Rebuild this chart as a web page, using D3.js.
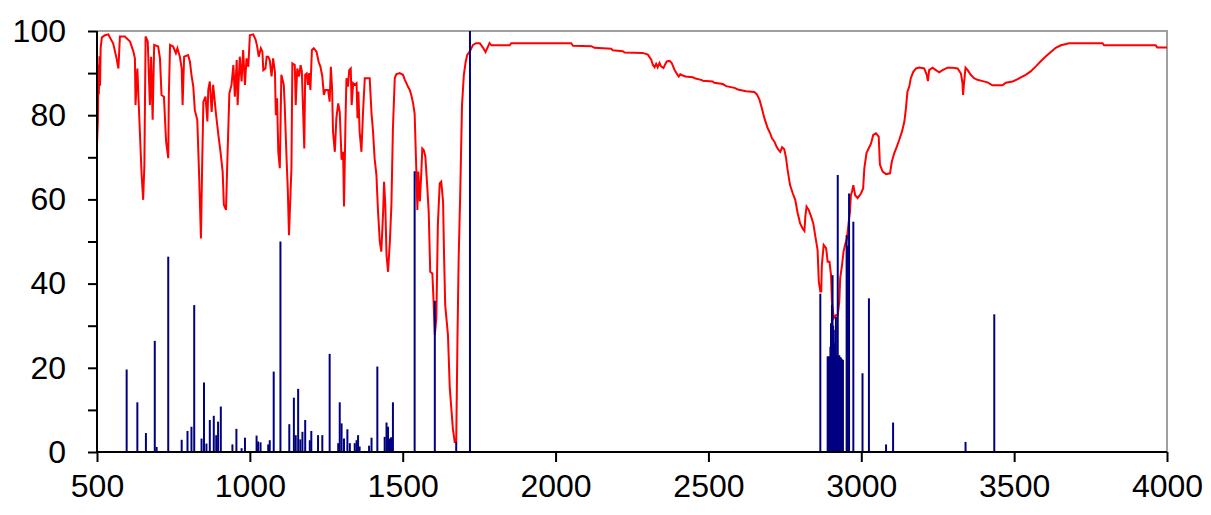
<!DOCTYPE html>
<html>
<head>
<meta charset="utf-8">
<script src="https://cdn.jsdelivr.net/npm/d3@7"></script>
<style>
html,body{margin:0;padding:0;background:#fff;}
svg text{font-family:"Liberation Sans",Arial,sans-serif;}
</style>
</head>
<body>
<svg id="chart" width="1211" height="515"></svg>
<script>
// ---- data ----
const xTicks = [500, 1000, 1500, 2000, 2500, 3000, 3500, 4000];
const yTicks = [0, 10, 20, 30, 40, 50, 60, 70, 80, 90, 100];
const yLabels = [0, 20, 40, 60, 80, 100];

// measured spectrum (wavenumber, transmittance %)
const spectrumPoints = [
[500,73],[503,79],[505,92],[506,85],[508,94],[510,87],[512,96],[516,98.5],[526,99],[537,99.2],[553,97],[564,93.5],[570,91.1],[575,98.7],[591,98.7],[608,97.5],[619,95.1],[624,93.5],[626,82.4],[632,91.1],[638,80],[646,65.8],[651,59.9],[655,68.2],[659,98.7],[666,97.5],[673,82.4],[677,93.9],[682,78.9],[687,96.7],[700,96.3],[706,93.5],[711,84.8],[719,84.4],[726,73.7],[733,69.8],[735,84.8],[739,96.7],[749,96.3],[758,94.7],[763,95.9],[771,93.9],[777,91.1],[780,82.4],[785,93.9],[798,94.3],[804,92.7],[809,89.6],[815,86.8],[820,81.2],[828,78.9],[834,65.8],[840,50.7],[844,68.2],[848,83.2],[855,84.4],[861,78.5],[864,86],[869,88],[875,80.8],[880,87.2],[889,80.4],[897,75.3],[904,71.3],[911,66.6],[915,58.7],[922,57.5],[926,68.2],[933,85.2],[940,87.2],[946,91.9],[951,84.4],[957,93.1],[960,82.4],[967,93.9],[973,88],[978,95.5],[984,87.2],[989,93.5],[995,91.5],[1000,99],[1011,99.2],[1019,97.9],[1024,96.3],[1029,93.9],[1036,95.9],[1041,95.1],[1044,90.7],[1051,91.1],[1055,93.9],[1060,93.9],[1065,93.1],[1071,89.2],[1076,93.5],[1082,90.3],[1085,80],[1089,84],[1093,71.3],[1098,67.4],[1103,89.6],[1111,87.2],[1114,82.4],[1120,69.8],[1124,62.6],[1128,51.5],[1136,67.4],[1139,92.3],[1147,91.9],[1150,82.4],[1155,91.1],[1161,89.2],[1166,91.9],[1170,90.5],[1174,81.6],[1178,72.1],[1181,89.6],[1186,89.9],[1190,87.2],[1194,90],[1198,86],[1203,95.5],[1209,95.9],[1218,95.1],[1225,92.7],[1231,91.5],[1237,89.2],[1242,84.8],[1247,86],[1256,86],[1261,83.2],[1265,91.5],[1269,86.4],[1272,76.1],[1278,71.3],[1283,79.3],[1289,82.8],[1294,80.8],[1300,69.4],[1305,71.3],[1308,58.3],[1313,79.3],[1316,88.8],[1321,86.8],[1325,90.7],[1330,91.1],[1333,82.4],[1338,87.6],[1343,87.2],[1349,87.6],[1352,79.3],[1355,85.6],[1359,76.1],[1365,71.3],[1370,80.4],[1376,88.8],[1392,88.8],[1398,80.4],[1403,76.1],[1408,69.8],[1414,65.8],[1419,57.5],[1425,50],[1430,47.6],[1436,57.1],[1439,64.2],[1443,58.7],[1447,46.8],[1452,42.8],[1458,50],[1463,58.7],[1468,76.9],[1474,88.8],[1479,89.7],[1490,90],[1501,89.6],[1507,88.4],[1512,87.6],[1517,86.8],[1523,86],[1528,84.8],[1534,82.8],[1539,80.4],[1545,65.8],[1548,57.5],[1551,66.6],[1556,59.5],[1561,66.6],[1564,72.1],[1569,71.7],[1574,70.2],[1580,63.4],[1585,57.1],[1590,42.8],[1597,42.4],[1601,35.7],[1605,27.8],[1610,31.8],[1615,53.9],[1621,63.8],[1626,64.2],[1632,59.5],[1635,47.6],[1639,34.9],[1648,27.8],[1654,15.1],[1659,10.4],[1664,5.6],[1670,2.4],[1675,2.4],[1679,26.2],[1683,46],[1688,61],[1694,82.4],[1700,89.6],[1706,92.7],[1711,94.3],[1719,95.1],[1730,96.7],[1740,97.1],[1752,97.1],[1763,96],[1771,95],[1784,97.1],[1790,96.6],[1850,96.6],[1855,97.1],[2051,97.1],[2057,96.5],[2117,96.4],[2127,96],[2182,95.8],[2187,95.4],[2220,95.2],[2226,94.9],[2285,94.8],[2302,94.4],[2313,93.2],[2318,92],[2324,91.4],[2329,92.2],[2334,91.4],[2340,92.4],[2345,91.6],[2353,91.2],[2358,92],[2364,92.8],[2373,92.9],[2380,92.4],[2389,90.8],[2397,89.8],[2403,89.2],[2408,89.7],[2414,89.5],[2425,89.2],[2449,89],[2458,88.7],[2476,88.4],[2482,88.2],[2514,88],[2519,87.7],[2547,87.4],[2558,86.9],[2585,86.5],[2596,86.1],[2623,85.7],[2650,85.5],[2658,85],[2667,83.7],[2675,81.6],[2683,79.3],[2694,76.9],[2702,75.7],[2708,74.5],[2716,73.7],[2723,72.5],[2730,71.7],[2735,71.3],[2741,72.4],[2748,71.9],[2754,69.8],[2759,67],[2767,63.4],[2776,61.4],[2784,59.9],[2792,56.7],[2800,54.3],[2808,53.1],[2814,52.5],[2817,55.9],[2821,58.3],[2828,57.5],[2836,55.9],[2843,54.3],[2850,51.1],[2857,48],[2861,40.5],[2866,38.1],[2869,38.1],[2871,44.4],[2877,49.2],[2885,48.4],[2890,45.2],[2896,45.2],[2901,42],[2904,35.7],[2910,31.8],[2917,32.5],[2923,32.5],[2928,35.7],[2931,41.3],[2937,44.4],[2942,47.6],[2947,49.2],[2953,50.7],[2959,54.7],[2963,57.1],[2966,61],[2970,62],[2974,63.4],[2980,61],[2988,60.3],[2999,61.4],[3006,62.6],[3010,67.4],[3017,71],[3024,72.1],[3032,73.3],[3039,75.3],[3048,75.7],[3057,74.9],[3061,68.2],[3070,66.6],[3081,66],[3094,66.2],[3100,69],[3108,71],[3116,72.5],[3124,74.1],[3133,76.1],[3141,78.5],[3146,81.6],[3151,85.6],[3157,86.8],[3162,88.8],[3170,90.3],[3179,91.1],[3190,91.3],[3206,91.1],[3214,89.6],[3218,88.1],[3222,90.7],[3233,91.3],[3244,90.7],[3255,90.2],[3266,90.7],[3282,91.3],[3298,91.3],[3315,91.1],[3326,89.9],[3331,87.6],[3333,84.8],[3336,87.6],[3341,91.3],[3348,90.7],[3358,89.6],[3369,88.8],[3380,88.4],[3397,88.1],[3413,87.8],[3429,87.1],[3462,87.1],[3473,87.7],[3495,88],[3510,88.5],[3522,89],[3538,89.6],[3554,90.4],[3571,91.6],[3587,92.8],[3604,94],[3620,95],[3636,96],[3653,96.6],[3680,97.1],[3789,97.1],[3794,96.6],[3963,96.6],[3968,96.1],[4000,96.1]
];

// calculated line positions (wavenumber) and intensities
const stickPositions = [597,632,660,689,695,733,777,796,809,818,842,850,858,869,882,890,896,905,943,956,973,984,1022,1027,1035,1060,1065,1078,1100,1129,1144,1150,1158,1165,1172,1181,1196,1201,1223,1237,1261,1289,1294,1300,1308,1319,1327,1343,1349,1354,1359,1390,1398,1417,1441,1447,1452,1458,1462,1468,1539,1605,1675,1720,
2866,2890,2893,2896,2899,2901,2904,2906,2908,2910,2912,2914,2917,2920,2923,2926,2928,2930,2932,2934,2937,2940,2952,2956,2960,2974,3004,3025,3081,3104,3341,3435];
const stickIntensities = [19.6,11.8,4.5,26.4,1.2,46.4,2.9,5,6,34.9,3.2,16.5,2,7.6,8.6,4,7.2,10.8,1.8,5.5,0.9,3.4,3.9,2.5,2.3,1.8,2.8,19.1,50,6.6,12.9,4,15,3,4.8,7.6,2.8,5,4,4,23.3,2.1,11.8,6.8,3.2,5.4,2.1,2.1,2.8,4,1.3,1.5,3.4,20.3,3.6,7,6,3.2,3.5,11.8,66.7,35.9,2.4,100,
37.6,22.7,22.7,22.7,25,30.6,35,42,30,29,26,25.8,32.1,23,65.8,22.7,23,22.5,22.5,22.3,22,21.9,51.5,49,61.4,54.7,18.7,36.5,1.8,7,2.4,32.7];

// ---- drawing ----
const svg = d3.select("#chart");
const plotL = 97, plotR = 1167, plotT = 31, plotB = 452;
const x = d3.scaleLinear().domain([500, 4000]).range([plotL, plotR]);
const y = d3.scaleLinear().domain([0, 100]).range([plotB, plotT]);

// frame (top and right grey)
svg.append("path")
  .attr("d", `M${plotL},${plotT}H${plotR}V${plotB}`)
  .attr("fill", "none").attr("stroke", "#a0a0a0").attr("stroke-width", 2);

// spectrum line
const line = d3.line().x(d => x(d[0])).y(d => y(d[1]));
svg.append("path").datum(spectrumPoints)
  .attr("d", line)
  .attr("fill", "none").attr("stroke", "#ff0000").attr("stroke-width", 2)
  .attr("stroke-linejoin", "miter");

// sticks
const sticks = stickPositions.map((p, i) => [p, stickIntensities[i]]);
svg.append("g").selectAll("line").data(sticks).join("line")
  .attr("x1", d => x(d[0])).attr("x2", d => x(d[0]))
  .attr("y1", y(0)).attr("y2", d => y(d[1]))
  .attr("stroke", "#000080").attr("stroke-width", 2);

// axes
const xAxis = d3.axisBottom(x).tickValues(xTicks).tickSize(10).tickPadding(12).tickFormat(d3.format("d"));
const gx = svg.append("g").attr("transform", `translate(0,${plotB})`).call(xAxis);
const yAxis = d3.axisLeft(y).tickValues(yTicks).tickSize(9).tickPadding(22)
  .tickFormat(d => yLabels.includes(d) ? d : "");
const gy = svg.append("g").attr("transform", `translate(${plotL},0)`).call(yAxis);

[gx, gy].forEach(g => {
  g.select(".domain").attr("stroke", "#000").attr("stroke-width", 2);
  g.selectAll(".tick line").attr("stroke", "#000").attr("stroke-width", 2);
  g.selectAll(".tick text").attr("fill", "#000")
    .style("font-family", '"Liberation Sans", Arial, sans-serif').style("font-size", "32px");
});
gx.select(".domain").attr("d", `M${plotL},0H${plotR}`);
gy.select(".domain").attr("d", `M0,${plotT}V${plotB}`);
</script>
</body>
</html>
